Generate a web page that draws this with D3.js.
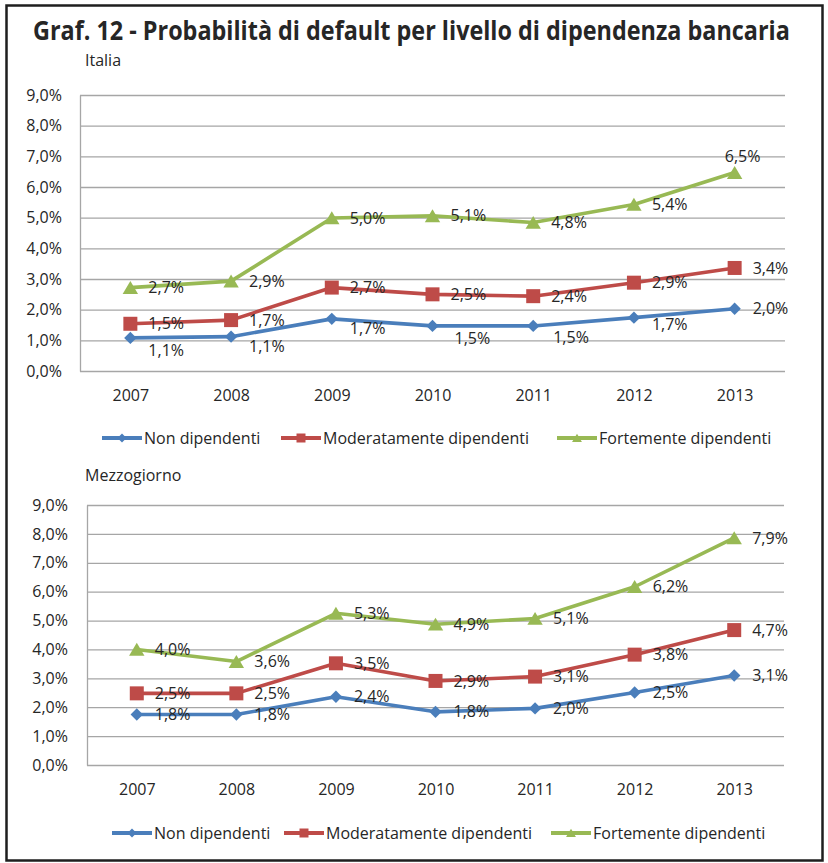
<!DOCTYPE html>
<html>
<head>
<meta charset="utf-8">
<script src="https://cdn.jsdelivr.net/npm/d3@7"></script>
<style>
  body { margin: 0; background: #fff; }
  svg { display: block; }
  text { font-family: "Open Sans", "Noto Sans", sans-serif; fill: #262626; }
</style>
</head>
<body>
<div id="chart"></div>
<script>
// Categories and series (values in %)
const years = ["2007", "2008", "2009", "2010", "2011", "2012", "2013"];
const seriesNames = ["Non dipendenti", "Moderatamente dipendenti", "Fortemente dipendenti"];
const italiaNon = [1.08, 1.12, 1.70, 1.47, 1.47, 1.74, 2.03];
const italiaMod = [1.54, 1.66, 2.72, 2.50, 2.44, 2.88, 3.36];
const italiaForte = [2.72, 2.93, 4.99, 5.06, 4.84, 5.43, 6.47];
const mezzNon = [1.75, 1.75, 2.36, 1.84, 1.96, 2.51, 3.10];
const mezzMod = [2.48, 2.48, 3.52, 2.91, 3.06, 3.82, 4.67];
const mezzForte = [4.00, 3.58, 5.25, 4.87, 5.07, 6.17, 7.86];
const yTicks = [0, 1, 2, 3, 4, 5, 6, 7, 8, 9];

// Styling
const Colors = ["#4a7ebb", "#be4b48", "#98b954"];
const Shapes = ["diamond", "square", "triangle"];
const Width = 828, Height = 863;

/** Shape: Path for a marker centered on 0,0. */
function Shape(Type, S) {
    if (Type == "diamond") return `M0,${-S}L${S},0L0,${S}L${-S},0Z`;
    if (Type == "square") return `M${-S},${-S}H${S}V${S}H${-S}Z`;
    return `M0,${-S * 0.95}L${S * 1.1},${S * 0.9}L${-S * 1.1},${S * 0.9}Z`;
}
var Format = (V) => V.toFixed(1).replace(".", ",") + "%";

// Panel layouts
const Panels = [
    {
        Name: "Italia", Series: [italiaNon, italiaMod, italiaForte],
        Left: 80, Right: 785, Top: 95, Bottom: 371, SubX: 85, SubY: 66, LabelX: 62,
        LegendY: 438, LegendX: [102, 281, 557],
        // label nudges [dx, dy] per series / point, default [18, 0]
        Nudges: {
            0: [[18, 13], [18, 10], [18, 10], [22, 12], [20, 11], [18, 7], [18, 0]],
            2: [null, null, null, null, null, null, ["mid", -16]]
        }
    },
    {
        Name: "Mezzogiorno", Series: [mezzNon, mezzMod, mezzForte],
        Left: 87, Right: 784, Top: 505, Bottom: 765, SubX: 85, SubY: 481, LabelX: 68,
        LegendY: 833, LegendX: [112, 284, 551],
        Nudges: {}
    }
];

var Svg = d3.select("#chart").append("svg").attr("width", Width).attr("height", Height);
Svg.append("rect").attr("width", Width).attr("height", Height).attr("fill", "#fff");
// Frame
Svg.append("rect").attr("x", 6.5).attr("y", 5.5).attr("width", 816).attr("height", 855)
    .attr("fill", "none").attr("stroke", "#1e1e1e").attr("stroke-width", 2.5);
// Title: scaled horizontally to span the same width as the original
var Title = Svg.append("text").attr("x", 0).attr("y", 0)
    .style("font-family", "'Liberation Sans Narrow', 'Open Sans', sans-serif")
    .style("font-weight", "bold").style("font-size", "27px")
    .text("Graf. 12 - Probabilità di default per livello di dipendenza bancaria");
var TitleLength = Title.node().getComputedTextLength();
Title.attr("transform", `translate(33,40) scale(${757 / TitleLength},1)`);

Panels.forEach((P) => {
    var G = Svg.append("g");
    var X = d3.scalePoint().domain(years).range([P.Left, P.Right]).padding(0.5);
    var Y = d3.scaleLinear().domain([0, 9]).range([P.Bottom, P.Top]);
    // Subtitle
    G.append("text").attr("x", P.SubX).attr("y", P.SubY).style("font-size", "16px").text(P.Name);
    // Y axis with gridlines
    var YAxis = G.append("g").attr("transform", `translate(${P.Left},0)`)
        .call(d3.axisLeft(Y).tickValues(yTicks).tickSize(-(P.Right - P.Left)).tickSizeOuter(0)
            .tickPadding(P.Left - P.LabelX).tickFormat(Format));
    YAxis.selectAll("line").attr("stroke", "#a6a6a6").attr("stroke-width", 1.3);
    YAxis.select(".domain").attr("stroke", "#a6a6a6").attr("stroke-width", 1.3);
    YAxis.selectAll("text").style("font-size", "16px").style("font-family", null).attr("fill", "#262626");
    // X axis
    var XAxis = G.append("g").attr("transform", `translate(0,${P.Bottom})`)
        .call(d3.axisBottom(X).tickSize(0).tickPadding(18.6));
    XAxis.select(".domain").remove();
    XAxis.selectAll("text").style("font-size", "16px").style("font-family", null).attr("fill", "#262626");
    // Lines
    var Line = d3.line().x((D, I) => X(years[I])).y((D) => Y(D));
    P.Series.forEach((Values, S) => {
        G.append("path").datum(Values).attr("d", Line)
            .attr("fill", "none").attr("stroke", Colors[S]).attr("stroke-width", 3.6)
            .attr("stroke-linejoin", "round");
    });
    // Markers
    P.Series.forEach((Values, S) => {
        G.selectAll(null).data(Values).join("path")
            .attr("d", Shape(Shapes[S], S == 0 ? 6.2 : 7))
            .attr("transform", (D, I) => `translate(${X(years[I])},${Y(D)})`)
            .attr("fill", Colors[S]);
    });
    // Data labels
    P.Series.forEach((Values, S) => {
        var Nudge = P.Nudges[S] || [];
        G.selectAll(null).data(Values).join("text")
            .each(function (D, I) {
                var N = Nudge[I] || [18, 0];
                var T = d3.select(this).attr("y", Y(D) + N[1]).attr("dy", "0.35em").style("font-size", "16px");
                if (N[0] == "mid") T.attr("x", X(years[I]) + 8).attr("text-anchor", "middle");
                else T.attr("x", X(years[I]) + N[0]);
            })
            .text(Format);
    });
    // Legend
    seriesNames.forEach((Name, S) => {
        var L = G.append("g").attr("transform", `translate(${P.LegendX[S]},${P.LegendY})`);
        L.append("line").attr("x1", 0).attr("x2", 40).attr("stroke", Colors[S]).attr("stroke-width", 4);
        L.append("path").attr("d", Shape(Shapes[S], 4.5)).attr("transform", "translate(20,0)").attr("fill", Colors[S]);
        L.append("text").attr("x", 42).attr("dy", "0.35em").style("font-size", "16px").text(Name);
    });
});
</script>
</body>
</html>
